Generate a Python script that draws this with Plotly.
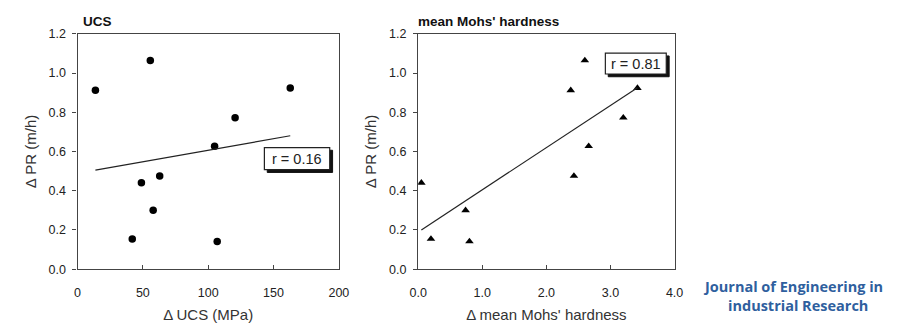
import plotly.graph_objects as go

# Data
pr = [0.912, 1.064, 0.923, 0.772, 0.627, 0.475, 0.44, 0.30, 0.154, 0.141]
ucs = [13.7, 55.7, 162.8, 120.6, 104.9, 62.9, 48.9, 57.9, 41.9, 106.9]
mohs = [2.38, 2.60, 3.42, 3.20, 2.66, 2.43, 0.05, 0.74, 0.20, 0.80]

ucs_fit_x = [13.7, 162.8]
ucs_fit_y = [0.505, 0.68]
mohs_fit_x = [0.05, 3.42]
mohs_fit_y = [0.20, 0.925]

r_labels = ["r = 0.16", "r = 0.81"]

W, H = 897, 323
fig = go.Figure()

fig.add_trace(go.Scatter(x=ucs, y=pr, mode="markers", xaxis="x", yaxis="y",
                         marker=dict(symbol="circle", size=7.5, color="black"), showlegend=False))
fig.add_trace(go.Scatter(x=ucs_fit_x, y=ucs_fit_y, mode="lines", xaxis="x", yaxis="y",
                         line=dict(color="#222", width=1.2), showlegend=False))
fig.add_trace(go.Scatter(x=mohs, y=pr, mode="markers", xaxis="x2", yaxis="y2",
                         marker=dict(symbol="triangle-up", size=7.5, color="black"), showlegend=False))
fig.add_trace(go.Scatter(x=mohs_fit_x, y=mohs_fit_y, mode="lines", xaxis="x2", yaxis="y2",
                         line=dict(color="#222", width=1.2), showlegend=False))

FAM = "Liberation Sans, Arial"
font = dict(family=FAM, size=12.5, color="#222")
axcommon = dict(showgrid=False, zeroline=False, showline=True, mirror=True,
                linecolor="#444", linewidth=1.3, tickfont=font, ticklen=4,
                tickcolor="#444", title_font=dict(family=FAM, size=15, color="#333"))

ytop = 1 - 28 / H
ybot = 1 - 274 / H

fig.update_layout(
    width=W, height=H, margin=dict(l=0, r=0, t=0, b=0),
    paper_bgcolor="white", plot_bgcolor="white",
    xaxis=dict(domain=[70 / W, 337 / W], range=[0, 200], tickvals=[0, 50, 100, 150, 200],
               ticks="inside", ticklabelstandoff=12, title=dict(text="Δ UCS (MPa)", standoff=10),
               anchor="y", **axcommon),
    yaxis=dict(domain=[ybot, ytop], range=[0, 1.2], tickvals=[0, 0.2, 0.4, 0.6, 0.8, 1.0, 1.2],
               tickformat=".1f", ticks="outside", ticklabelstandoff=4,
               title=dict(text="Δ PR (m/h)", standoff=8), anchor="x", **axcommon),
    xaxis2=dict(domain=[418 / W, 680 / W], range=[0, 4], tickvals=[0, 1, 2, 3, 4], tickformat=".1f",
                ticks="inside", ticklabelstandoff=12, title=dict(text="Δ mean Mohs' hardness", standoff=10),
                anchor="y2", **axcommon),
    yaxis2=dict(domain=[ybot, ytop], range=[0, 1.2], tickvals=[0, 0.2, 0.4, 0.6, 0.8, 1.0, 1.2],
                tickformat=".1f", ticks="outside", ticklabelstandoff=4,
                title=dict(text="Δ PR (m/h)", standoff=8), anchor="x2", **axcommon),
)

ann = []
ann.append(dict(text="<b>UCS</b>", xref="paper", yref="paper", x=74 / W, y=1 - 15 / H,
                xanchor="left", yanchor="middle", showarrow=False,
                font=dict(family=FAM, size=13.5, color="#111")))
ann.append(dict(text="<b>mean Mohs' hardness</b>", xref="paper", yref="paper", x=416 / W, y=1 - 15 / H,
                xanchor="left", yanchor="middle", showarrow=False,
                font=dict(family=FAM, size=13.5, color="#111")))

shapes = []
def rbox(text, xr, yr, x0, x1, y0, y1, dx, dy):
    shapes.append(dict(type="rect", xref=xr, yref=yr, x0=x0 + dx, x1=x1 + dx, y0=y0 - dy, y1=y1 - dy,
                       fillcolor="#111", line=dict(color="#111", width=1), layer="above"))
    shapes.append(dict(type="rect", xref=xr, yref=yr, x0=x0, x1=x1, y0=y0, y1=y1,
                       fillcolor="white", line=dict(color="#222", width=1.2), layer="above"))
    ann.append(dict(text=text, xref=xr, yref=yr, x=(x0 + x1) / 2, y=(y0 + y1) / 2, showarrow=False,
                    font=dict(family=FAM, size=14.5, color="#222")))

rbox(r_labels[0], "x", "y", 143, 193, 0.507, 0.62, 2.2, 0.014)
rbox(r_labels[1], "x2", "y2", 2.92, 3.87, 0.995, 1.101, 0.045, 0.014)

wm = dict(family="Open Sans", size=14.5, color="#2f5f9e")
ann.append(dict(text="<b>Journal of Engineering in</b>", xref="paper", yref="paper", borderpad=0,
                x=801 / W, y=1 - 292 / H, xanchor="center", yanchor="middle", showarrow=False, font=wm))
ann.append(dict(text="<b>industrial Research</b>", xref="paper", yref="paper", borderpad=0,
                x=806 / W, y=1 - 312 / H, xanchor="center", yanchor="middle", showarrow=False, font=wm))

fig.update_layout(annotations=ann, shapes=shapes)
fig.write_html("out.html")
